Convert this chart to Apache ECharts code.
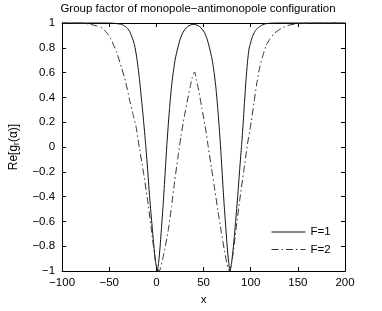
<!DOCTYPE html>
<html>
<head>
<meta charset="utf-8">
<script src="https://cdn.jsdelivr.net/npm/echarts@6/dist/echarts.min.js"></script>
<style>
html,body{margin:0;padding:0;background:#fff;}
#c{width:382px;height:311px;}
</style>
</head>
<body>
<div id="c"></div>
<script>
// ---- data ----
var titleText = 'Group factor of monopole\u2212antimonopole configuration';
var seriesNames = ['F=1', 'F=2'];
var xTicks = [-100, -50, 0, 50, 100, 150, 200];
var yTicks = [-1, -0.8, -0.6, -0.4, -0.2, 0, 0.2, 0.4, 0.6, 0.8, 1];

var xF1 = [-100,-60,-48,-42,-37,-33,-30.5,-28.4,-25.8,-23.3,-20.8,-18.2,-15.6,-13.1,-11.4,-9.4,-7.3,-5,-2.8,-0.8,1,
  2.5,3.9,5.6,7.4,9.1,10.8,12.4,14.1,15.8,17.6,20,22.7,25.2,27.8,30.4,33,36,39.5,43,46,48.6,51.2,53.8,56.3,59,61.4,63.2,64.9,66.6,68.2,69.9,71.6,73.4,75.1,76.5,78,
  79.8,81.8,84,86.3,88.4,90.4,91.8,93.5,95.2,96.8,98.2,99.4,101.8,104.5,107.5,111.3,115,120,128,200];
var yF1 = [1,1,0.999,0.995,0.988,0.972,0.955,0.932,0.885,0.826,0.72,0.563,0.37,0.169,0.02,-0.17,-0.39,-0.6,-0.79,-0.93,-1,
  -0.92,-0.805,-0.63,-0.437,-0.23,-0.016,0.16,0.326,0.47,0.589,0.71,0.8,0.87,0.919,0.95,0.97,0.983,0.99,0.983,0.97,0.95,0.919,0.87,0.8,0.71,0.589,0.47,0.326,0.16,-0.016,-0.23,-0.437,-0.63,-0.805,-0.92,-1,
  -0.93,-0.79,-0.6,-0.39,-0.17,0.02,0.169,0.37,0.56,0.7,0.79,0.826,0.89,0.932,0.96,0.98,0.992,0.998,1,1];

var xF2 = [-100,-85,-75,-71,-64,-57.4,-52,-47.2,-42,-37,-32.5,-28.4,-25,-21.7,-18.2,-13.8,-9.7,-5.6,-1.2,1,3,
  6.7,9.5,12.5,16,19.3,22.7,26.1,29.5,33,36,38.1,40.5,42.5,44.8,48.2,51.7,55,58.5,62,65.3,68.7,72.1,74.5,76.5,77.5,
  80.5,84.5,88.5,92.5,96.5,100.5,103.5,106.2,109.5,113,116.5,119.9,125,130,138.6,147,156,168,200];
var yF2 = [1,1,0.997,0.99,0.978,0.958,0.915,0.853,0.76,0.642,0.52,0.38,0.27,0.169,0,-0.2,-0.41,-0.647,-0.91,-0.98,-1,
  -0.9,-0.8,-0.674,-0.48,-0.279,-0.09,0.09,0.24,0.38,0.49,0.563,0.605,0.54,0.458,0.315,0.168,0,-0.174,-0.35,-0.516,-0.68,-0.832,-0.93,-0.99,-1,
  -0.9,-0.66,-0.42,-0.2,0.02,0.2,0.36,0.5,0.64,0.74,0.82,0.865,0.915,0.945,0.978,0.992,0.998,1,1];

function zip(xs, ys){ var o=[]; for(var i=0;i<xs.length;i++) o.push([xs[i], ys[i]]); return o; }
function fmt(v){ var s = String(Math.round(v*10)/10); return s.replace('-', '\u2212'); }

var FONT = 'Liberation Sans';
var FS = 11.5;
var chart = echarts.init(document.getElementById('c'), null, {renderer:'canvas'});
var frameLine = {show:true, onZero:false, lineStyle:{color:'#000', width:1}};
var tickIn = {show:true, inside:true, length:4, lineStyle:{color:'#000', width:1}};

chart.setOption({
  animation:false,
  backgroundColor:'#fff',
  title:{
    text:titleText, left:198, top:3, textAlign:'center', padding:0,
    textStyle:{fontFamily:FONT, fontSize:FS, fontWeight:'normal', color:'#000'}
  },
  legend:{
    data:seriesNames, orient:'vertical', left:266, top:221,
    itemWidth:34, itemHeight:12, itemGap:5.5,
    itemStyle:{opacity:0},
    lineStyle:{width:1},
    textStyle:{fontFamily:FONT, fontSize:FS, color:'#000'}
  },
  grid:{left:52, right:37, top:23, bottom:35, containLabel:false},
  xAxis:[{
    type:'value', min:-100, max:200, interval:50, position:'bottom',
    axisLine:frameLine, axisTick:tickIn, splitLine:{show:false},
    axisLabel:{margin:6, fontFamily:FONT, fontSize:FS, color:'#000', formatter:fmt},
    name:'x', nameLocation:'middle', nameGap:18,
    nameTextStyle:{fontFamily:FONT, fontSize:FS, color:'#000'}
  },{
    type:'value', min:-100, max:200, interval:50, position:'top',
    axisLine:frameLine, axisTick:tickIn, splitLine:{show:false}, axisLabel:{show:false}
  }],
  yAxis:[{
    type:'value', min:-1, max:1, interval:0.2, position:'left',
    axisLine:frameLine, axisTick:tickIn, splitLine:{show:false},
    axisLabel:{margin:7, fontFamily:FONT, fontSize:FS, color:'#000', formatter:fmt},
    name:'Re[g{s|r}(\u03b1)]', nameLocation:'middle', nameGap:36, nameRotate:90,
    nameTextStyle:{fontFamily:FONT, fontSize:12, color:'#000',
      rich:{s:{fontFamily:FONT, fontSize:8.5, color:'#000', verticalAlign:'bottom', padding:[6,0,0,0]}}}
  },{
    type:'value', min:-1, max:1, interval:0.2, position:'right',
    axisLine:frameLine, axisTick:tickIn, splitLine:{show:false}, axisLabel:{show:false}
  }],
  series:[{
    name:seriesNames[0], type:'line', xAxisIndex:0, yAxisIndex:0,
    data:zip(xF1, yF1), showSymbol:false, symbol:'none', smooth:0.2, clip:false,
    lineStyle:{color:'#111', width:1, type:'solid'}, itemStyle:{color:'#111'}
  },{
    name:seriesNames[1], type:'line', xAxisIndex:0, yAxisIndex:0,
    data:zip(xF2, yF2), showSymbol:false, symbol:'none', smooth:0.2, clip:false,
    lineStyle:{color:'#333', width:1, type:[7,3,1.5,3]}, itemStyle:{color:'#333'}
  }]
});
</script>
</body>
</html>
